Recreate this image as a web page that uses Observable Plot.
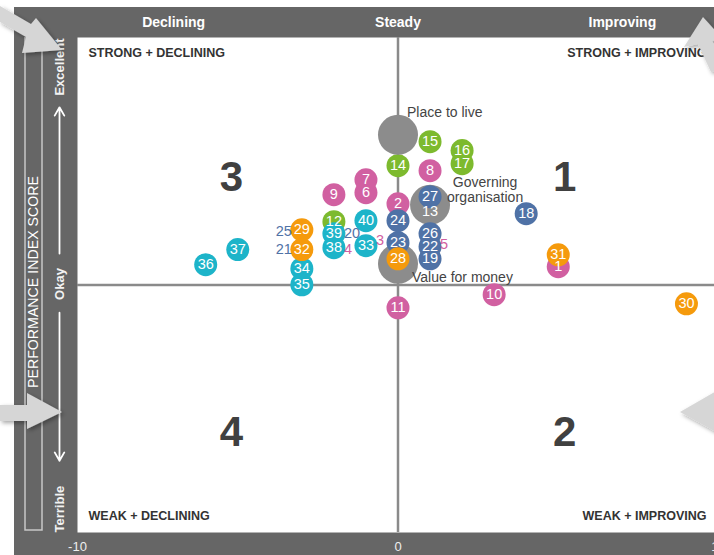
<!DOCTYPE html>
<html><head><meta charset="utf-8">
<script src="https://cdn.jsdelivr.net/npm/d3@7"></script>
<script src="https://cdn.jsdelivr.net/npm/@observablehq/plot@0.6"></script>
<style>
html,body{margin:0;padding:0;background:#fff;}
#wrap{position:relative;width:714px;height:555px;overflow:hidden;font-family:"Liberation Sans",Arial,sans-serif;}
#band{position:absolute;left:14px;top:7px;right:0;bottom:0;background:#666;}
#chart{position:absolute;left:0;top:0;}
</style></head><body>
<div id="wrap"><div id="band"></div><div id="chart"></div></div>
<script>
// ---- data ----
const ids = d3.range(1, 41);
const groups = ["A","A","A","A","A","A","A","A","A","A","A",
                "B","B","B","B","B","B",
                "C","C","C","C","C","C","C","C","C","C",
                "D","D","D","D","D",
                "E","E","E","E","E","E","E","E"];
// direction of travel (x) and performance index score (y)
const change = [5,0,-1,-2,1,-1,-1,1,-2,3,0,
                -2,1,0,1,2,2,
                4,1,-2,-3,1,0,0,-3,1,1,
                0,-3,9,5,-3,
                -1,-3,-3,-6,-5,-2,-2,-1];
const score  = [0.74,3.28,1.79,1.43,1.63,3.73,4.25,4.62,3.65,-0.39,-0.92,
                2.56,2.96,4.82,5.79,5.43,4.90,
                2.88,1.06,2.07,1.43,1.55,1.71,2.60,2.15,2.07,3.57,
                1.06,2.23,-0.76,1.22,1.43,
                1.59,0.66,0.01,0.82,1.43,1.51,2.07,2.60];
const groupNames  = ["A","B","C","D","E"];
const groupColors = ["#d160a1","#7dba2e","#4f72a6","#f59a0c","#1db4c9"];

const dimNames  = ["Place to live","Governing\norganisation","Value for money"];
const dimChange = [0, 1, 0];
const dimScore  = [6.07, 3.24, 0.86];

const headerTicks  = [-7, 0, 7];
const headerLabels = ["Declining","Steady","Improving"];
const bottomTicks  = [-10, 0, 10];

const quadNames = ["STRONG + DECLINING","STRONG + IMPROVING","WEAK + DECLINING","WEAK + IMPROVING"];
const quadIds = ["1","2","3","4"];
const quadX   = [5.2, 5.2, -5.2, -5.2];
const quadY   = [4.35, -5.95, 4.35, -5.95];

const yTitle = "PERFORMANCE INDEX SCORE";
const yLabels = ["Excellent","Okay","Terrible"];

// labels drawn beside points that are hidden behind others
const labelSide = {3:"right",4:"right",5:"right",20:"right",21:"left",25:"left"};

// ---- build ----
const points = ids.map((id,i)=>({id, group:groups[i], x:change[i], y:score[i]}));
const visible = points.filter(p => !(p.id in labelSide));
const order = g => ({B:0,A:1,C:2,E:3,D:4})[g];
const lower = visible.filter(p => p.group==="A"||p.group==="B").sort((a,b)=>order(a.group)-order(b.group));
const upper = visible.filter(p => !(p.group==="A"||p.group==="B")).sort((a,b)=>order(a.group)-order(b.group));
const hiddenR = points.filter(p => labelSide[p.id]==="right");
const hiddenL = points.filter(p => labelSide[p.id]==="left");
const dims = dimNames.map((n,i)=>({name:n, x:dimChange[i], y:dimScore[i]}));
const quads = quadIds.map((q,i)=>({q, x:quadX[i], y:quadY[i]}));
const scaleArrows = [{from:1.27,to:7.18},{from:-1.12,to:-7.1}];

const font = "Liberation Sans, Arial, sans-serif";
const plot = Plot.plot({
  width: 714, height: 555,
  marginLeft: 77, marginRight: -4, marginTop: 37, marginBottom: 23,
  style: {fontFamily: font, background: "transparent", overflow: "hidden"},
  x: {domain: [-10, 10], axis: null, label: null},
  y: {domain: [-10, 10], axis: null, label: null},
  color: {domain: groupNames, range: groupColors},
  marks: [
    Plot.frame({fill: "white"}),
    Plot.ruleX([0], {stroke: "#8a8a8a", strokeWidth: 2.5}),
    Plot.ruleY([0], {stroke: "#8a8a8a", strokeWidth: 2.5}),
    // quadrant corner captions
    Plot.text([quadNames[0]], {frameAnchor: "top-left", dx: 11, dy: 15, lineAnchor: "middle", fontWeight: "bold", fontSize: 12.5, fill: "#333"}),
    Plot.text([quadNames[1]], {frameAnchor: "top-right", dx: -12, dy: 15, lineAnchor: "middle", fontWeight: "bold", fontSize: 12.5, fill: "#333"}),
    Plot.text([quadNames[2]], {frameAnchor: "bottom-left", dx: 11, dy: -17, lineAnchor: "middle", fontWeight: "bold", fontSize: 12.5, fill: "#333"}),
    Plot.text([quadNames[3]], {frameAnchor: "bottom-right", dx: -12, dy: -17, lineAnchor: "middle", fontWeight: "bold", fontSize: 12.5, fill: "#333"}),
    Plot.text(quads, {x: "x", y: "y", text: "q", fontSize: 42, fontWeight: "bold", fill: "#404040"}),
    // points
    Plot.dot(lower, {x: "x", y: "y", r: 11.5, fill: "group"}),
    Plot.dot(dims, {x: "x", y: "y", r: 20, fill: "#8c8c8c"}),
    Plot.dot(upper, {x: "x", y: "y", r: 11.5, fill: "group"}),
    Plot.text(visible, {x: "x", y: "y", text: d => String(d.id), fill: "white", fontSize: 14.5}),
    Plot.text(hiddenR, {x: "x", y: "y", text: d => String(d.id), fill: "group", fontSize: 14.5, textAnchor: "start", dx: 10}),
    Plot.text(hiddenL, {x: "x", y: "y", text: d => String(d.id), fill: "group", fontSize: 14.5, textAnchor: "end", dx: -10}),
    // dimension labels
    Plot.text(dims.slice(0,1), {x: "x", y: "y", text: "name", textAnchor: "start", dx: 9, dy: -22, fontSize: 14, fill: "#444"}),
    Plot.text(dims.slice(1,2), {x: "x", y: "y", text: "name", textAnchor: "middle", dx: 55, dy: -15, fontSize: 14, lineHeight: 1.08, fill: "#444"}),
    Plot.text(dims.slice(2,3), {x: "x", y: "y", text: "name", textAnchor: "start", dx: 14, dy: 14, fontSize: 14, fill: "#444"}),
    // axes
    Plot.axisX({ticks: headerTicks, anchor: "top", label: null, tickSize: 0, tickPadding: 15, lineAnchor: "middle",
      tickFormat: d => headerLabels[headerTicks.indexOf(d)], fill: "white", fontWeight: "bold", fontSize: 14}),
    Plot.axisX({ticks: bottomTicks, anchor: "bottom", label: null, tickSize: 0, tickPadding: 14.5, lineAnchor: "middle",
      tickFormat: d => String(d), fill: "#eee", fontSize: 13}),
    // left panel (performance scale)
    Plot.text([yTitle], {frameAnchor: "left", dx: -44, dy: -3, rotate: -90, textAnchor: "middle", lineAnchor: "middle", fill: "white", fontSize: 14.2}),
    Plot.text([yLabels[0]], {frameAnchor: "top-left", dx: -18, dy: 1, rotate: -90, textAnchor: "end", lineAnchor: "middle", fill: "#f2f2f2", fontWeight: "bold", fontSize: 13}),
    Plot.text([yLabels[1]], {frameAnchor: "left", dx: -18, dy: -1, rotate: -90, textAnchor: "middle", lineAnchor: "middle", fill: "#f2f2f2", fontWeight: "bold", fontSize: 13}),
    Plot.text([yLabels[2]], {frameAnchor: "bottom-left", dx: -18, dy: 0, rotate: -90, textAnchor: "start", lineAnchor: "middle", fill: "#f2f2f2", fontWeight: "bold", fontSize: 13}),
    Plot.arrow(scaleArrows, {x1: () => -10, x2: () => -10, y1: "from", y2: "to", dx: -18, stroke: "white", strokeWidth: 1.8, headLength: 8})
  ]
});
document.getElementById("chart").appendChild(plot);

// ---- decorations (outline of scale panel, callout arrows) ----
const svg = d3.select(plot);
const defs = svg.append("defs");
const f = defs.append("filter").attr("id","sh").attr("x","-30%").attr("y","-30%").attr("width","160%").attr("height","160%");
f.append("feDropShadow").attr("dx",2).attr("dy",2).attr("stdDeviation",2).attr("flood-color","#000").attr("flood-opacity",0.35);
const deco = svg.append("g");
deco.append("path").attr("d","M25,37V530H42V37").attr("fill","none").attr("stroke","#c8c8c8").attr("stroke-width",1.5);
const callouts = [
  "M0,6 L31,24 L36,18 L62,50 L22,53 L26,37 L0,22 Z",
  "M0,405 L27,405 L27,393 L62,412 L27,429 L27,421 L0,421 Z",
  "M703,17 L722,38 L712,41 L725,70 L711,72 L698,44 L684,47 Z",
  "M680,412 L720,389 L720,434 Z"
];
deco.selectAll("path.c").data(callouts).join("path").attr("class","c")
  .attr("d", d => d).attr("fill","#d6d6d6").attr("filter","url(#sh)");
</script>
</body></html>
